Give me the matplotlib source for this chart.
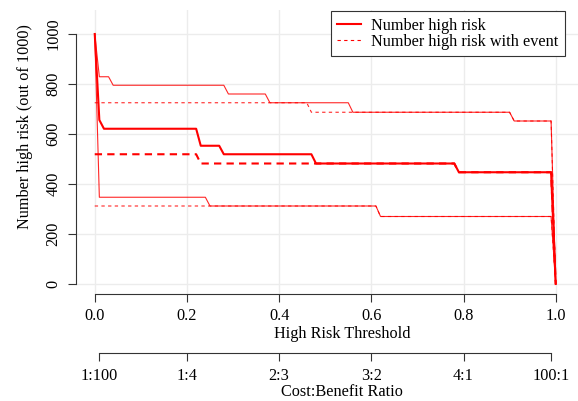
import matplotlib
matplotlib.use("Agg")
import matplotlib.pyplot as plt
from matplotlib.lines import Line2D

plt.rcParams['font.family'] = ['Liberation Serif', 'DejaVu Serif']
plt.rcParams['font.size'] = 11.7

# number high risk (out of 1000) vs threshold
hr_x = [0.00, 0.01, 0.02, 0.22, 0.23, 0.27, 0.28, 0.47, 0.48, 0.78, 0.79, 0.99, 1.00]
hr_y = [1000, 656, 621, 621, 553, 553, 519, 519, 482, 482, 447, 447, 0]

# number high risk with event
ev_x = [0.00, 0.22, 0.23, 0.78, 0.79, 0.99, 1.00]
ev_y = [519, 519, 482, 482, 447, 447, 0]

# confidence bands
hr_up_x = [0.00, 0.01, 0.03, 0.04, 0.28, 0.29, 0.37, 0.38, 0.55, 0.56, 0.90, 0.91, 0.99, 1.00]
hr_up_y = [1000, 829, 829, 795, 795, 760, 760, 725, 725, 687, 687, 652, 652, 0]
hr_lo_x = [0.00, 0.01, 0.24, 0.25, 0.61, 0.62, 0.99, 1.00]
hr_lo_y = [1000, 347, 347, 312, 312, 270, 270, 0]

ev_up_x = [0.00, 0.46, 0.47, 0.90, 0.91, 0.99, 1.00]
ev_up_y = [725, 725, 687, 687, 652, 652, 0]
ev_lo_x = [0.00, 0.61, 0.62, 0.99, 1.00]
ev_lo_y = [312, 312, 270, 270, 0]

x_ticks = [0.0, 0.2, 0.4, 0.6, 0.8, 1.0]
y_ticks = [0, 200, 400, 600, 800, 1000]
cb_labels = ['1:100', '1:4', '2:3', '3:2', '4:1', '100:1']
cb_pairs = [(1, 100), (1, 4), (2, 3), (3, 2), (4, 1), (100, 1)]

W, H = 578, 401
fig = plt.figure(figsize=(W / 100, H / 100), dpi=100)
# axes box in pixels: x 76.3..578, y 10..294
ax = fig.add_axes([76.3 / W, 1 - 294 / H, (578 - 76.3) / W, (294 - 10) / H])
ax.set_xlim(-0.04, (578 - 94.7) / 461)
ax.set_ylim(-40, (284 - 10) * 4)

grid_c = '#ececec'
for xv in x_ticks:
    ax.axvline(xv, color=grid_c, lw=1, zorder=0)
for yv in y_ticks:
    ax.axhline(yv, color=grid_c, lw=1, zorder=0)

thin = dict(color='red', lw=0.8, alpha=0.85)
ax.plot(hr_up_x, hr_up_y, **thin)
ax.plot(hr_lo_x, hr_lo_y, **thin)
ax.plot(ev_up_x, ev_up_y, dashes=(3, 3), **thin)
ax.plot(ev_lo_x, ev_lo_y, dashes=(3, 3), **thin)
ax.plot(ev_x, ev_y, color='red', lw=1.5, dashes=(3.5, 2.5))
ax.plot(hr_x, hr_y, color='red', lw=1.5)

for s in ['top', 'right']:
    ax.spines[s].set_visible(False)
ax.spines['bottom'].set_bounds(0, 1)
ax.spines['left'].set_bounds(0, 1000)
for s in ['bottom', 'left']:
    ax.spines[s].set_linewidth(0.8)
    ax.spines[s].set_color('#333333')

ax.set_xticks(x_ticks)
ax.set_xticklabels(['%.1f' % v for v in x_ticks])
ax.set_yticks(y_ticks)
ax.set_yticklabels([str(v) for v in y_ticks], rotation=90, va='center')
ax.tick_params(length=5.8, width=0.8, color='#333333')
ax.tick_params(axis='x', pad=4.5)
ax.tick_params(axis='y', pad=5)

# cost:benefit axis
ax2 = ax.twiny()
ax2.set_xlim(ax.get_xlim())
ax2.xaxis.set_ticks_position('bottom')
for s in ['top', 'right', 'left']:
    ax2.spines[s].set_visible(False)
ax2.spines['bottom'].set_position(('outward', 59.3 * 0.72))
cb_pos = [c / (c + b) for c, b in cb_pairs]
ax2.spines['bottom'].set_bounds(cb_pos[0], cb_pos[-1])
ax2.spines['bottom'].set_linewidth(0.8)
ax2.spines['bottom'].set_color('#333333')
ax2.set_xticks(cb_pos)
ax2.set_xticklabels(cb_labels)
ax2.tick_params(length=5.8, width=0.8, color='#333333', pad=4.5)

fig.text(342 / W, 1 - 338.5 / H, 'High Risk Threshold', ha='center', va='baseline')
fig.text(342 / W, 1 - 395.5 / H, 'Cost:Benefit Ratio', ha='center', va='baseline')
fig.text(25 / W, 1 - 127 / H, 'Number high risk (out of 1000)', rotation=90,
         ha='center', va='center')

handles = [Line2D([], [], color='red', lw=1.5),
           Line2D([], [], color='red', lw=0.8, dashes=(3, 3))]
leg = ax.legend(handles, ['Number high risk', 'Number high risk with event'],
                loc='upper right', bbox_to_anchor=(565 / W, 1 - 11 / H),
                bbox_transform=fig.transFigure, borderaxespad=0,
                fancybox=False, framealpha=1, edgecolor='#333333',
                handlelength=1.5, handletextpad=0.6, labelspacing=0.0,
                borderpad=0.4)
leg.get_frame().set_linewidth(0.8)

fig.savefig('out.png', dpi=100)
